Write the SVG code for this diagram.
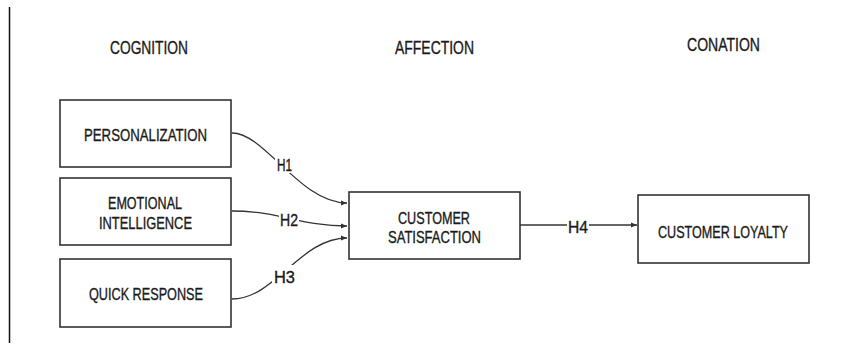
<svg xmlns="http://www.w3.org/2000/svg" width="850" height="345" viewBox="0 0 850 345">
<defs>
<style>
.box{fill:#fff;stroke:#333;stroke-width:1.6}
.t{font-family:"Liberation Sans",Arial,sans-serif;fill:#1a1a1a;stroke:#1a1a1a;stroke-width:0.35;text-anchor:middle;font-size:17px}
.h{font-size:18.5px}
.c{fill:none;stroke:#333;stroke-width:1.3}
.lb{fill:#fff}
</style>
<marker id="arr" viewBox="0 0 10 10" refX="10" refY="5" markerWidth="6" markerHeight="6" orient="auto" markerUnits="userSpaceOnUse">
<path d="M0,1 L10,5 L0,9 z" fill="#333"/>
</marker>
</defs>
<rect width="850" height="345" fill="#fff"/>
<line x1="9.5" y1="7" x2="9.5" y2="343" stroke="#111" stroke-width="1.5"/>
<g id="headers">
<text class="t h" x="149" y="53.5" textLength="78" lengthAdjust="spacingAndGlyphs">COGNITION</text>
<text class="t h" x="434.5" y="53.5" textLength="79" lengthAdjust="spacingAndGlyphs">AFFECTION</text>
<text class="t h" x="723.5" y="50.5" textLength="73" lengthAdjust="spacingAndGlyphs">CONATION</text>
</g>
<g id="connectors">
<path class="c" d="M232,133 C265,133 300,203 347,203" marker-end="url(#arr)"/>
<path class="c" d="M232,211 C280,211 300,226 347,226" marker-end="url(#arr)"/>
<path class="c" d="M232,299 C275,299 300,238 347,238" marker-end="url(#arr)"/>
<path class="c" d="M520,225 L637,225" marker-end="url(#arr)"/>
<rect class="lb" x="275" y="154" width="21" height="19"/>
<rect class="lb" x="279" y="212" width="20" height="15"/>
<rect class="lb" x="272" y="265" width="25" height="19"/>
<rect class="lb" x="567" y="219" width="22" height="15"/>
<text class="t" x="284.5" y="170.5" textLength="15" lengthAdjust="spacingAndGlyphs">H1</text>
<text class="t" x="289" y="225.5" textLength="18" lengthAdjust="spacingAndGlyphs">H2</text>
<text class="t" x="284.5" y="282.5" textLength="21" lengthAdjust="spacingAndGlyphs">H3</text>
<text class="t" x="578" y="232.5" textLength="20" lengthAdjust="spacingAndGlyphs">H4</text>
</g>
<g id="personalization">
<rect class="box" x="60" y="100" width="171" height="67"/>
<text class="t" x="145.5" y="140.5" textLength="123" lengthAdjust="spacingAndGlyphs">PERSONALIZATION</text>
</g>
<g id="emotional-intelligence">
<rect class="box" x="60" y="178" width="171" height="67"/>
<text class="t" x="145" y="208.5" textLength="74" lengthAdjust="spacingAndGlyphs">EMOTIONAL</text>
<text class="t" x="145.5" y="228.5" textLength="93" lengthAdjust="spacingAndGlyphs">INTELLIGENCE</text>
</g>
<g id="quick-response">
<rect class="box" x="60" y="259" width="171" height="68"/>
<text class="t" x="146" y="299.5" textLength="114" lengthAdjust="spacingAndGlyphs">QUICK RESPONSE</text>
</g>
<g id="customer-satisfaction">
<rect class="box" x="349" y="192" width="171" height="67"/>
<text class="t" x="434" y="223.5" textLength="72" lengthAdjust="spacingAndGlyphs">CUSTOMER</text>
<text class="t" x="434.5" y="242.5" textLength="93" lengthAdjust="spacingAndGlyphs">SATISFACTION</text>
</g>
<g id="customer-loyalty">
<rect class="box" x="638" y="195" width="171" height="68"/>
<text class="t" x="723" y="237.5" textLength="130" lengthAdjust="spacingAndGlyphs">CUSTOMER LOYALTY</text>
</g>
</svg>
